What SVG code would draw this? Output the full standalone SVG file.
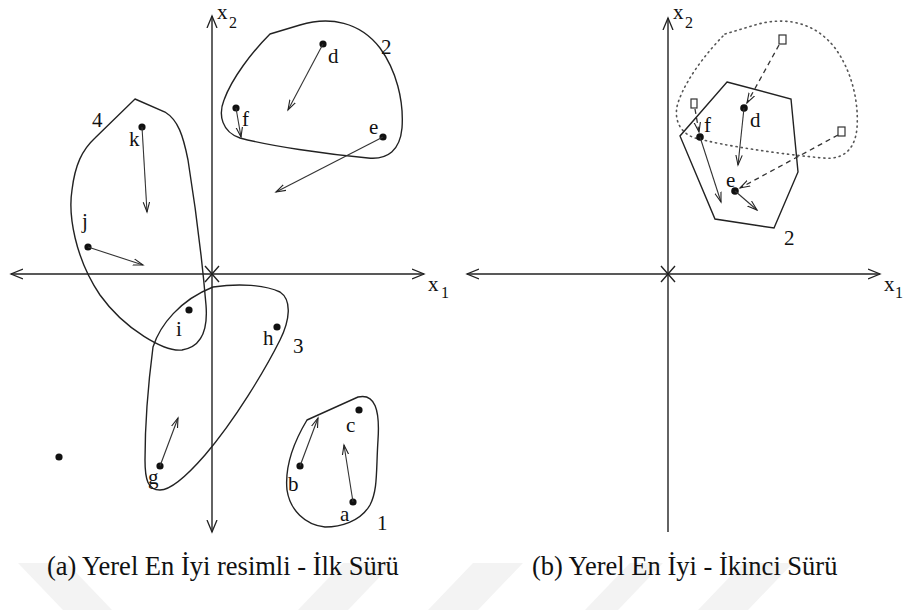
<svg xmlns="http://www.w3.org/2000/svg" width="903" height="610" viewBox="0 0 903 610">
<defs>
<marker id="ah" markerUnits="userSpaceOnUse" markerWidth="12" markerHeight="8" refX="10" refY="4" orient="auto">
<path d="M0,0.8 L10,4 L0,7.2" fill="none" stroke="#222" stroke-width="1.1"/>
</marker>
<marker id="ax" markerUnits="userSpaceOnUse" markerWidth="14" markerHeight="12" refX="12" refY="6" orient="auto">
<path d="M0,1 L12,6 L0,11" fill="none" stroke="#222" stroke-width="1.3"/>
</marker>
<style>
.axis{stroke:#222;stroke-width:1.4;fill:none}
.hull{stroke:#222;stroke-width:1.4;fill:none}
.vel{stroke:#333;stroke-width:1.1;fill:none;marker-end:url(#ah)}
.dash{stroke:#333;stroke-width:1.3;fill:none;stroke-dasharray:5,4;marker-end:url(#ah)}
.dot{fill:#111}
.sq{fill:#fff;stroke:#333;stroke-width:1.2}
.lbl{font-size:21px;fill:#111}
.sub{font-size:16px;fill:#111}
.cap{font-size:26.5px;fill:#111}
.wm{fill:#f3f3f3}
</style>
</defs>
<rect width="903" height="610" fill="#fff"/>
<g id="watermark">
<polygon class="wm" points="18,563 67,563 112,610 63,610"/>
<polygon class="wm" points="343,563 393,563 348,610 298,610"/>
<polygon class="wm" points="473,563 523,563 478,610 428,610"/>
<polygon class="wm" points="630,563 663,563 618,610 585,610"/>
<polygon class="wm" points="743,563 793,563 748,610 698,610"/>
</g>

<g font-family="Liberation Serif, Times New Roman, DejaVu Serif, serif">
<g id="panel-a">
<g id="axes-a">
<line class="axis" x1="212" y1="274" x2="212" y2="16" marker-end="url(#ax)"/>
<line class="axis" x1="212" y1="274" x2="212" y2="532" marker-end="url(#ax)"/>
<line class="axis" x1="212" y1="274" x2="424" y2="274" marker-end="url(#ax)"/>
<line class="axis" x1="212" y1="274" x2="11" y2="274" marker-end="url(#ax)"/>
<path class="axis" d="M205,266 L219,282 M219,266 L205,282" stroke-width="1.1"/>
<text class="lbl" x="217" y="19">x</text><text class="sub" x="229" y="28">2</text>
<text class="lbl" x="428" y="291">x</text><text class="sub" x="441" y="298">1</text>
</g>
<g id="swarm-2">
<path class="hull" d="M270,34 L300,25 C330,16 360,22 380,48 C396,70 404,100 402,128 C400,150 388,160 368,158 C325,154 270,146 240,138 C222,132 218,115 224,100 C232,78 252,52 270,34 Z"/>
<circle class="dot" cx="323" cy="44" r="3.6"/>
<line class="vel" x1="323" y1="44" x2="288" y2="110"/>
<text class="lbl" x="328" y="63">d</text>
<circle class="dot" cx="236" cy="108" r="3.6"/>
<line class="vel" x1="236" y1="108" x2="241" y2="137"/>
<text class="lbl" x="242" y="126">f</text>
<circle class="dot" cx="383" cy="137" r="3.6"/>
<line class="vel" x1="383" y1="137" x2="276" y2="192"/>
<text class="lbl" x="369" y="134">e</text>
<text class="lbl" x="381" y="54">2</text>
</g>
<g id="swarm-4">
<path class="hull" d="M135,99 L165,112 C178,120 183,135 188,160 C196,210 203,270 206,305 C208,330 202,347 182,350 C165,352 125,330 100,295 C75,258 68,215 72,190 C75,165 82,150 95,138 Z"/>
<circle class="dot" cx="142" cy="127" r="3.6"/>
<line class="vel" x1="142" y1="127" x2="147" y2="212"/>
<text class="lbl" x="129" y="146">k</text>
<circle class="dot" cx="88" cy="247" r="3.6"/>
<line class="vel" x1="88" y1="247" x2="143" y2="265"/>
<text class="lbl" x="82" y="228">j</text>
<text class="lbl" x="92" y="127">4</text>
</g>
<g id="swarm-3">
<path class="hull" d="M213,287 C240,283 265,285 280,292 C292,300 290,320 280,340 C265,370 235,420 205,455 C185,478 170,490 160,490 C148,490 145,480 145,460 C145,420 150,370 153,347 C160,325 180,300 213,287 Z"/>
<circle class="dot" cx="189" cy="310" r="3.6"/>
<text class="lbl" x="176" y="336">i</text>
<circle class="dot" cx="277" cy="327" r="3.6"/>
<text class="lbl" x="263" y="345">h</text>
<circle class="dot" cx="160" cy="466" r="3.6"/>
<line class="vel" x1="160" y1="466" x2="178" y2="418"/>
<text class="lbl" x="148" y="484">g</text>
<text class="lbl" x="293" y="353">3</text>
</g>
<g id="swarm-1">
<path class="hull" d="M307,420 L358,397 C375,393 380,410 378,440 C376,470 378,490 370,505 C360,522 340,527 325,527 C305,525 290,510 287,490 C285,470 292,445 307,420 Z"/>
<circle class="dot" cx="359" cy="410" r="3.6"/>
<text class="lbl" x="346" y="432">c</text>
<circle class="dot" cx="300" cy="466" r="3.6"/>
<line class="vel" x1="300" y1="466" x2="318" y2="418"/>
<text class="lbl" x="288" y="491">b</text>
<circle class="dot" cx="353" cy="502" r="3.6"/>
<line class="vel" x1="353" y1="502" x2="344" y2="445"/>
<text class="lbl" x="340" y="521">a</text>
<text class="lbl" x="377" y="530">1</text>
</g>
<g id="lone-particle">
<circle class="dot" cx="59" cy="457" r="3.6"/>
</g>
</g>

<g id="panel-b">
<g id="axes-b">
<line class="axis" x1="668" y1="274" x2="668" y2="18" marker-end="url(#ax)"/>
<line class="axis" x1="668" y1="274" x2="668" y2="532"/>
<line class="axis" x1="668" y1="274" x2="880" y2="274" marker-end="url(#ax)"/>
<line class="axis" x1="668" y1="274" x2="467" y2="274" marker-end="url(#ax)"/>
<path class="axis" d="M661,266 L675,282 M675,266 L661,282" stroke-width="1.1"/>
<text class="lbl" x="673" y="19">x</text><text class="sub" x="685" y="28">2</text>
<text class="lbl" x="884" y="291">x</text><text class="sub" x="895" y="298">1</text>
</g>
<g id="old-swarm-2">
<path d="M270,34 L300,25 C330,16 360,22 380,48 C396,70 404,100 402,128 C400,150 388,160 368,158 C325,154 270,146 240,138 C222,132 218,115 224,100 C232,78 252,52 270,34 Z" transform="translate(455,0)" fill="none" stroke="#555" stroke-width="1.6" stroke-dasharray="1.2,4" stroke-linecap="round"/>
<rect class="sq" x="779" y="35" width="7" height="9"/>
<rect class="sq" x="691" y="99" width="6" height="9"/>
<rect class="sq" x="838" y="127" width="7" height="9"/>
</g>
<g id="new-swarm-2">
<polygon class="hull" points="727,82 791,99 798,172 774,228 715,219 680,136"/>
<circle class="dot" cx="744" cy="108" r="3.8"/>
<line class="vel" x1="744" y1="108" x2="738" y2="165"/>
<text class="lbl" x="750" y="127">d</text>
<circle class="dot" cx="700" cy="137" r="3.8"/>
<line class="vel" x1="700" y1="137" x2="721" y2="202"/>
<text class="lbl" x="704" y="132">f</text>
<circle class="dot" cx="735" cy="191" r="3.8"/>
<line class="vel" x1="735" y1="191" x2="757" y2="210"/>
<text class="lbl" x="726" y="187">e</text>
<text class="lbl" x="784" y="245">2</text>
</g>
<g id="connectors">
<line class="dash" x1="779" y1="45" x2="747" y2="103"/>
<line class="dash" x1="838" y1="135" x2="740" y2="188"/>
<line class="dash" x1="695" y1="109" x2="699" y2="132"/>
</g>
</g>

<text class="cap" x="47" y="575">(a) Yerel En İyi resimli - İlk Sürü</text>
<text class="cap" x="532" y="575">(b) Yerel En İyi - İkinci Sürü</text>
</g>
</svg>
